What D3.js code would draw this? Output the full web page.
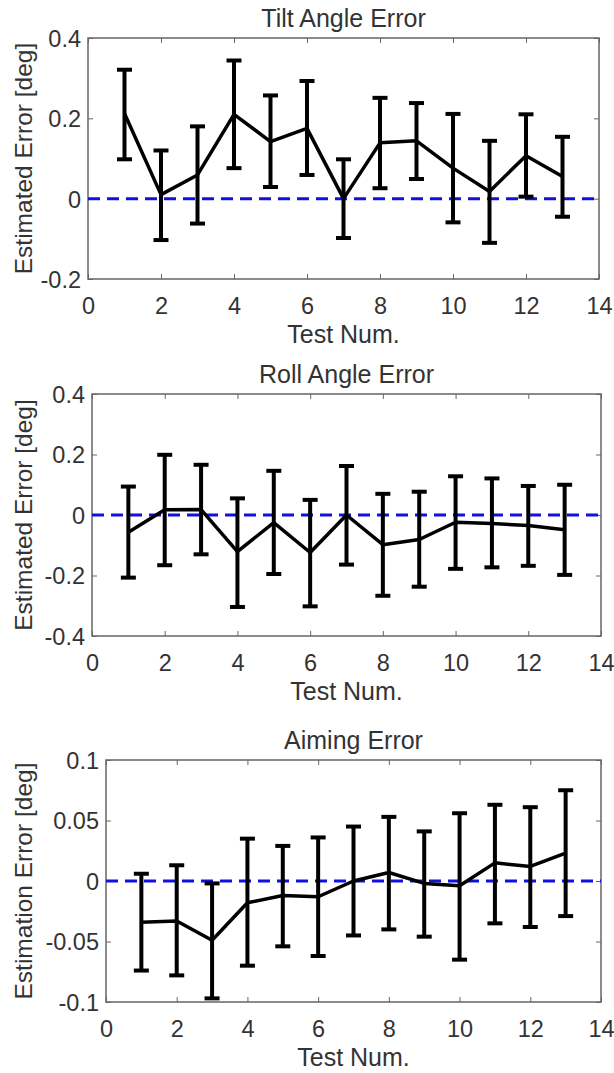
<!DOCTYPE html>
<html>
<head>
<meta charset="utf-8">
<script src="https://cdn.jsdelivr.net/npm/d3@7"></script>
<style>
    body { margin: 0; background: #fff; }
    svg { display: block; }
    text { font-family: "Liberation Sans", Arial, sans-serif; fill: #333; }
</style>
</head>
<body>
<svg id="chart" width="614" height="1073"></svg>
<script>
// values
var testNum = [1, 2, 3, 4, 5, 6, 7, 8, 9, 10, 11, 12, 13];
var xTicks = [0, 2, 4, 6, 8, 10, 12, 14];

var tiltMean = [0.212, 0.010, 0.059, 0.210, 0.142, 0.175, 0.000, 0.139, 0.144, 0.076, 0.018, 0.107, 0.055];
var tiltUpper = [0.321, 0.120, 0.180, 0.344, 0.257, 0.293, 0.098, 0.251, 0.238, 0.211, 0.144, 0.210, 0.154];
var tiltLower = [0.098, -0.103, -0.062, 0.076, 0.029, 0.059, -0.098, 0.026, 0.049, -0.059, -0.110, 0.005, -0.045];
var tiltTicks = [-0.2, 0, 0.2, 0.4];

var rollMean = [-0.057, 0.017, 0.018, -0.121, -0.025, -0.124, 0.000, -0.098, -0.081, -0.024, -0.028, -0.035, -0.049];
var rollUpper = [0.094, 0.199, 0.166, 0.055, 0.146, 0.050, 0.162, 0.070, 0.077, 0.128, 0.121, 0.096, 0.100];
var rollLower = [-0.207, -0.166, -0.130, -0.304, -0.195, -0.302, -0.164, -0.267, -0.237, -0.178, -0.173, -0.168, -0.198];
var rollTicks = [-0.4, -0.2, 0, 0.2, 0.4];

var aimMean = [-0.034, -0.033, -0.049, -0.018, -0.012, -0.013, 0.000, 0.007, -0.002, -0.004, 0.015, 0.012, 0.023];
var aimUpper = [0.006, 0.013, -0.002, 0.035, 0.029, 0.036, 0.045, 0.053, 0.041, 0.056, 0.063, 0.061, 0.075];
var aimLower = [-0.074, -0.078, -0.097, -0.070, -0.054, -0.062, -0.045, -0.040, -0.046, -0.065, -0.035, -0.038, -0.029];
var aimTicks = [-0.1, -0.05, 0, 0.05, 0.1];

var svg = d3.select("#chart");
var axisColor = "#666";

function drawPanel(p) {
    var width = p.right - p.left,
        height = p.bottom - p.top;

    var g = svg.append("g").attr("transform", "translate(" + p.left + "," + p.top + ")");

    var x = d3.scaleLinear().domain([0, 14]).range([0, width]);
    var y = d3.scaleLinear().domain(d3.extent(p.ticks)).range([height, 0]);

    // inward ticks on all four sides, like matlab "box on"
    var fmt = function (d) { return String(d); };
    var bottom = g.append("g").attr("transform", "translate(0," + height + ")")
        .call(d3.axisBottom(x).tickValues(xTicks).tickSize(-5).tickPadding(18).tickFormat(fmt));
    var top = g.append("g")
        .call(d3.axisTop(x).tickValues(xTicks).tickSize(-5).tickFormat(""));
    var left = g.append("g")
        .call(d3.axisLeft(y).tickValues(p.ticks).tickSize(-5).tickPadding(7).tickFormat(fmt));
    var right = g.append("g").attr("transform", "translate(" + width + ",0)")
        .call(d3.axisRight(y).tickValues(p.ticks).tickSize(-5).tickFormat(""));

    [bottom, top, left, right].forEach(function (a) {
        a.select(".domain").remove();
        a.selectAll("line").attr("stroke", axisColor).attr("stroke-width", 1);
        a.selectAll("text")
            .attr("font-size", 23.5)
            .attr("font-family", "'Liberation Sans', Arial, sans-serif")
            .attr("fill", "#333");
    });
    left.selectAll("text").attr("dy", "0.36em");

    g.append("rect")
        .attr("width", width)
        .attr("height", height)
        .attr("fill", "none")
        .attr("stroke", axisColor)
        .attr("stroke-width", 1.5);

    // zero reference
    g.append("line")
        .attr("x1", x(0)).attr("x2", x(14))
        .attr("y1", y(0)).attr("y2", y(0))
        .attr("stroke", "#1010e0")
        .attr("stroke-width", 3)
        .attr("stroke-dasharray", "12,7");

    var rows = testNum.map(function (t, i) {
        return { t: t, mean: p.mean[i], hi: p.upper[i], lo: p.lower[i] };
    });

    // error bars
    var bars = g.append("g").attr("stroke", "#000").attr("stroke-width", 4);
    bars.selectAll(".stem").data(rows).enter().append("line")
        .attr("x1", function (d) { return x(d.t); })
        .attr("x2", function (d) { return x(d.t); })
        .attr("y1", function (d) { return y(d.lo); })
        .attr("y2", function (d) { return y(d.hi); });
    ["hi", "lo"].forEach(function (k) {
        bars.selectAll(".cap-" + k).data(rows).enter().append("line")
            .attr("x1", function (d) { return x(d.t) - 7.5; })
            .attr("x2", function (d) { return x(d.t) + 7.5; })
            .attr("y1", function (d) { return y(d[k]); })
            .attr("y2", function (d) { return y(d[k]); });
    });

    g.append("path")
        .datum(rows)
        .attr("fill", "none")
        .attr("stroke", "#000")
        .attr("stroke-width", 3.5)
        .attr("stroke-linejoin", "round")
        .attr("d", d3.line().x(function (d) { return x(d.t); }).y(function (d) { return y(d.mean); }));

    // labels
    g.append("text")
        .attr("x", width / 2)
        .attr("y", -11)
        .attr("text-anchor", "middle")
        .attr("font-size", 25)
        .text(p.title);

    g.append("text")
        .attr("x", width / 2)
        .attr("y", height + 64)
        .attr("text-anchor", "middle")
        .attr("font-size", 25)
        .text("Test Num.");

    g.append("text")
        .attr("transform", "translate(" + (32 - p.left) + "," + (height / 2) + ") rotate(-90)")
        .attr("text-anchor", "middle")
        .attr("font-size", 24.5)
        .text(p.ylabel);
}

drawPanel({ left: 88, right: 599, top: 38, bottom: 279, ticks: tiltTicks,
    mean: tiltMean, upper: tiltUpper, lower: tiltLower,
    title: "Tilt Angle Error", ylabel: "Estimated Error [deg]" });

drawPanel({ left: 92, right: 601, top: 394, bottom: 636, ticks: rollTicks,
    mean: rollMean, upper: rollUpper, lower: rollLower,
    title: "Roll Angle Error", ylabel: "Estimated Error [deg]" });

drawPanel({ left: 106, right: 601, top: 760, bottom: 1002, ticks: aimTicks,
    mean: aimMean, upper: aimUpper, lower: aimLower,
    title: "Aiming Error", ylabel: "Estimation Error [deg]" });
</script>
</body>
</html>
